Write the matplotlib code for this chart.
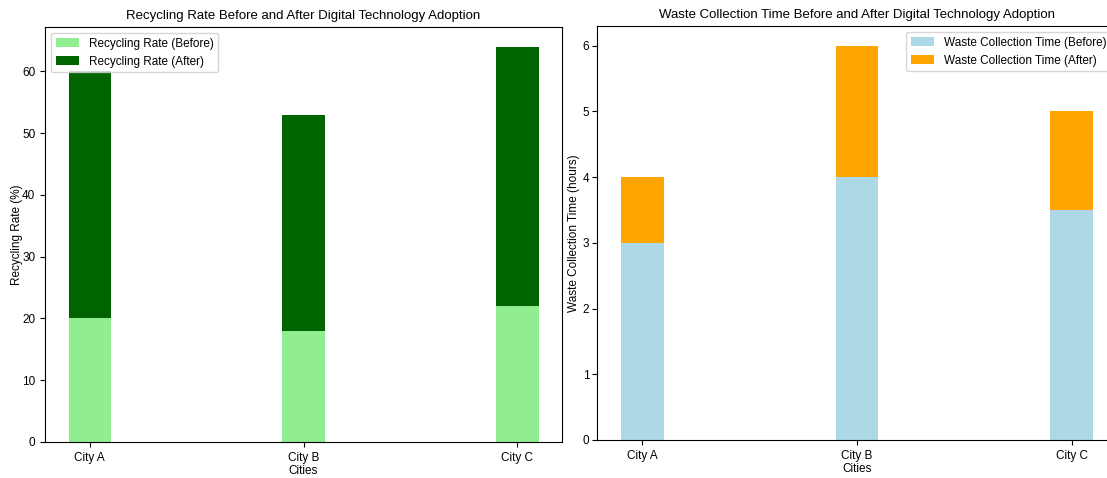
import matplotlib.pyplot as plt
import numpy as np

cities = ["City A", "City B", "City C"]
recycling_before = [20, 18, 22]
recycling_after = [40, 35, 42]
time_before = [3, 4, 3.5]
time_after = [1, 2, 1.5]

plt.rcParams['font.family'] = ['Liberation Sans', 'DejaVu Sans']
plt.rcParams['font.size'] = 8.5

fig = plt.figure(figsize=(11.07, 4.78), dpi=100)
ax1 = fig.add_axes([45 / 1107, 36 / 478, 517 / 1107, 415 / 478])
ax2 = fig.add_axes([597 / 1107, 38 / 478, 520 / 1107, 414 / 478])

x = np.arange(len(cities))
width = 0.2

ax1.bar(x, recycling_before, width, color="lightgreen", label="Recycling Rate (Before)")
ax1.bar(x, recycling_after, width, bottom=recycling_before, color="darkgreen", label="Recycling Rate (After)")
ax1.set_title("Recycling Rate Before and After Digital Technology Adoption", fontsize=9.5)
ax1.set_xlabel("Cities", labelpad=1)
ax1.set_ylabel("Recycling Rate (%)", labelpad=-1)
ax1.set_xticks(x)
ax1.set_xticklabels(cities)
ax1.legend(loc="upper left", fontsize=8.5)

ax2.bar(x, time_before, width, color="lightblue", label="Waste Collection Time (Before)")
ax2.bar(x, time_after, width, bottom=time_before, color="orange", label="Waste Collection Time (After)")
ax2.set_title("Waste Collection Time Before and After Digital Technology Adoption", fontsize=9.5)
ax2.set_xlabel("Cities", labelpad=1)
ax2.set_ylabel("Waste Collection Time (hours)", labelpad=2)
ax2.tick_params(axis="y", pad=2)
ax2.set_xticks(x)
ax2.set_xticklabels(cities)
ax2.legend(loc="upper right", fontsize=8.5)

fig.savefig("out.png", dpi=100)
